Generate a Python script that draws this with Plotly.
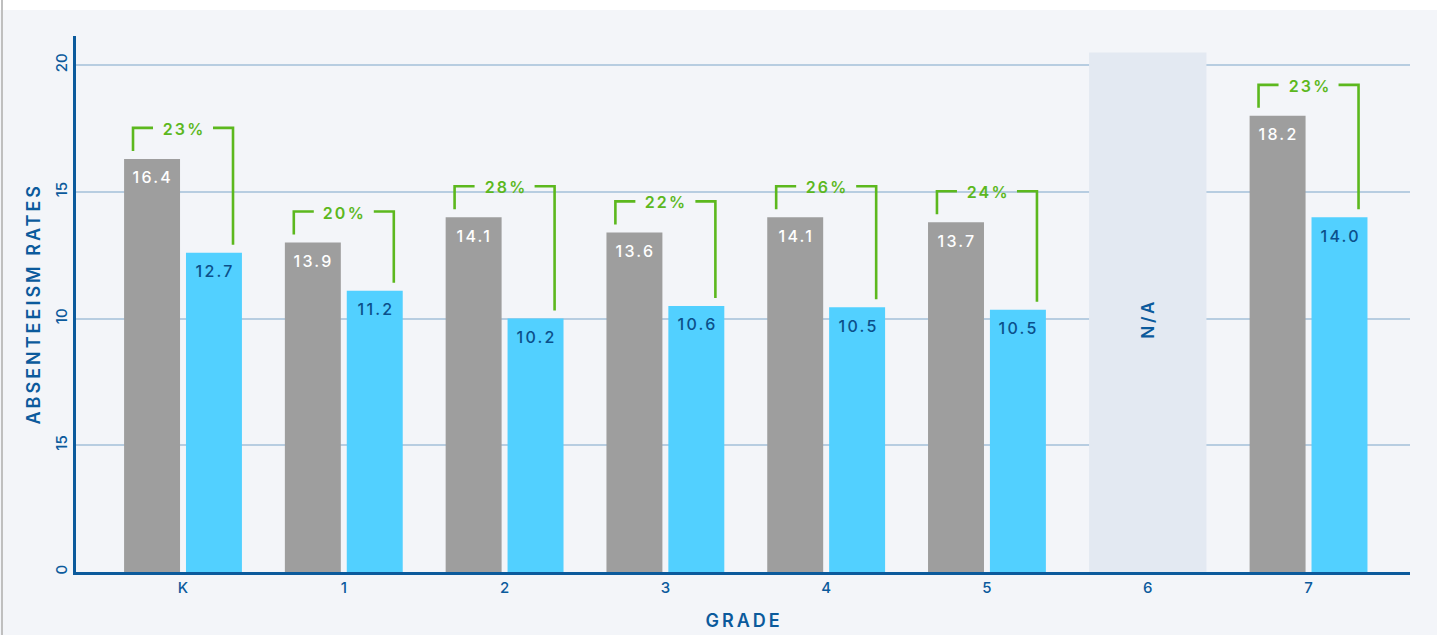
import plotly.graph_objects as go

# ---- data ----
grades = ['K', '1', '2', '3', '4', '5', '6', '7']
gray_vals = [16.3, 13.0, 14.0, 13.4, 14.0, 13.8, None, 18.0]
blue_vals = [12.6, 11.1, 10.0, 10.5, 10.45, 10.35, None, 14.0]
gray_labels = ['16.4', '13.9', '14.1', '13.6', '14.1', '13.7', '', '18.2']
blue_labels = ['12.7', '11.2', '10.2', '10.6', '10.5', '10.5', '', '14.0']
pct_labels = ['23%', '20%', '28%', '22%', '26%', '24%', '', '23%']
na_grade = '6'
na_value = 20.5
na_text = 'N/A'
y_tickvals = [0, 5, 10, 15, 20]
y_ticktext = ['0', '15', '10', '15', '20']

# ---- style ----
FONT = 'Inter'
DARK = '#0b5a9c'
LABEL_BLUE = '#0b4f8a'
GRAY = '#9e9e9e'
BLUE = '#52d0ff'
NA_COL = '#e3e9f2'
GREEN = '#5cb81e'
BG = '#f3f5f9'

W, H = 1437, 635
ML, MR, MT, MB = 76, 27, 36, 63
plot_w = W - ML - MR
plot_h = H - MT - MB
x_range = [-0.6655, 7.631]
y_range = [0, 21.15]
ppx = plot_w / (x_range[1] - x_range[0])   # px per x unit
ppy = plot_h / (y_range[1] - y_range[0])   # px per y unit

bar_w = 0.348
gap = 0.0185
xs = list(range(len(grades)))

fig = go.Figure()

na_idx = grades.index(na_grade)
fig.add_trace(go.Bar(x=[xs[na_idx]], y=[na_value], width=[0.73],
                     marker=dict(color=NA_COL, line=dict(width=0)),
                     hoverinfo='skip', showlegend=False))
fig.add_trace(go.Bar(x=xs, y=gray_vals, width=bar_w, offset=-(bar_w + gap),
                     marker=dict(color=GRAY, line=dict(width=0)), showlegend=False))
fig.add_trace(go.Bar(x=xs, y=blue_vals, width=bar_w, offset=gap,
                     marker=dict(color=BLUE, line=dict(width=0)), showlegend=False))

annotations = []
shapes = []
half = bar_w / 2 + gap
for i, g in enumerate(grades):
    gv, bv = gray_vals[i], blue_vals[i]
    if gv is None or bv is None:
        continue
    annotations.append(dict(x=xs[i] - half, y=gv, text=gray_labels[i], showarrow=False,
                            xref='x', yref='y', yanchor='middle', yshift=-18.5, xshift=1,
                            font=dict(family=FONT, size=16, color='white', weight=500)))
    annotations.append(dict(x=xs[i] + half, y=bv, text=blue_labels[i], showarrow=False,
                            xref='x', yref='y', yanchor='middle', yshift=-18.5, xshift=1,
                            font=dict(family=FONT, size=16, color=LABEL_BLUE, weight=500)))
    gl = xs[i] - 50 / ppx
    gr = xs[i] + 50 / ppx
    gh = 30 / ppx
    yt = gv + 31 / ppy
    ylb = gv + 8 / ppy
    yrb = bv + 8 / ppy
    shapes.append(dict(type='path', xref='x', yref='y',
                       path=f'M {gl},{ylb} L {gl},{yt} L {xs[i]-gh},{yt}',
                       line=dict(color=GREEN, width=2.6)))
    shapes.append(dict(type='path', xref='x', yref='y',
                       path=f'M {xs[i]+gh},{yt} L {gr},{yt} L {gr},{yrb}',
                       line=dict(color=GREEN, width=2.6)))
    annotations.append(dict(x=xs[i], y=yt, text=pct_labels[i], showarrow=False,
                            xref='x', yref='y', yanchor='middle', yshift=-1, xshift=1,
                            font=dict(family=FONT, size=16, color=GREEN, weight=600)))

annotations.append(dict(x=xs[na_idx], y=10, text=na_text, showarrow=False, textangle=-90,
                        xref='x', yref='y', yanchor='middle',
                        font=dict(family=FONT, size=17, color=DARK, weight=600)))

# axis titles
annotations.append(dict(x=(742.5 - ML) / plot_w, y=(H - MB - 620.5) / plot_h, xref='paper', yref='paper',
                        text='GRADE', showarrow=False, xanchor='center', yanchor='middle', xshift=1.5,
                        font=dict(family=FONT, size=18, color=DARK, weight=600)))
annotations.append(dict(x=(33 - ML) / plot_w, y=(H - MB - 304) / plot_h, xref='paper', yref='paper',
                        text='ABSENTEEISM RATES', showarrow=False, textangle=-90,
                        xanchor='center', yanchor='middle',
                        font=dict(family=FONT, size=18, color=DARK, weight=600)))

# frame decorations: white top strip and gray left rule
def px_x(p):
    return (p - ML) / plot_w
def px_y(p):
    return (H - MB - p) / plot_h

shapes.append(dict(type='rect', xref='paper', yref='paper', layer='below',
                   x0=px_x(0), x1=px_x(W), y0=px_y(10), y1=px_y(0),
                   fillcolor='white', line=dict(width=0)))
shapes.append(dict(type='rect', xref='paper', yref='paper', layer='below',
                   x0=px_x(1), x1=px_x(3), y0=px_y(H), y1=px_y(0),
                   fillcolor='#bfbfbf', line=dict(width=0)))

fig.update_layout(
    width=W, height=H,
    margin=dict(l=ML, r=MR, t=MT, b=MB),
    paper_bgcolor=BG, plot_bgcolor=BG,
    barmode='overlay',
    showlegend=False,
    annotations=annotations,
    shapes=shapes,
    xaxis=dict(range=x_range, tickmode='array', tickvals=xs, ticktext=grades,
               showgrid=False, zeroline=False, showline=True, linecolor=DARK, linewidth=3,
               ticks='', tickfont=dict(family=FONT, size=15, color=DARK, weight=500),
               fixedrange=True),
    yaxis=dict(range=y_range, tickmode='array', tickvals=y_tickvals, ticktext=y_ticktext,
               tickangle=-90, showgrid=True, gridcolor='#b7cde1', gridwidth=2,
               zeroline=False, showline=True, linecolor=DARK, linewidth=3, ticks='',
               tickfont=dict(family=FONT, size=15, color=DARK, weight=500),
               fixedrange=True),
    font=dict(family=FONT),
)

# widen the letter spacing of annotation texts (the reference uses tracked lettering)
post_script = """
(function(){
  var gd = document.getElementById('{plot_id}');
  function track(){
    gd.querySelectorAll('.annotation text.annotation-text').forEach(function(t){
      var s = t.textContent;
      var ls = (s === 'GRADE' || s === 'ABSENTEEISM RATES') ? '3px' : (s === 'N/A' ? '3px' : '2.2px');
      t.style.letterSpacing = ls;
    });
  }
  track();
  gd.on && gd.on('plotly_afterplot', track);
})();
"""

fig.write_html('out.html', config={'displayModeBar': False}, post_script=post_script)
